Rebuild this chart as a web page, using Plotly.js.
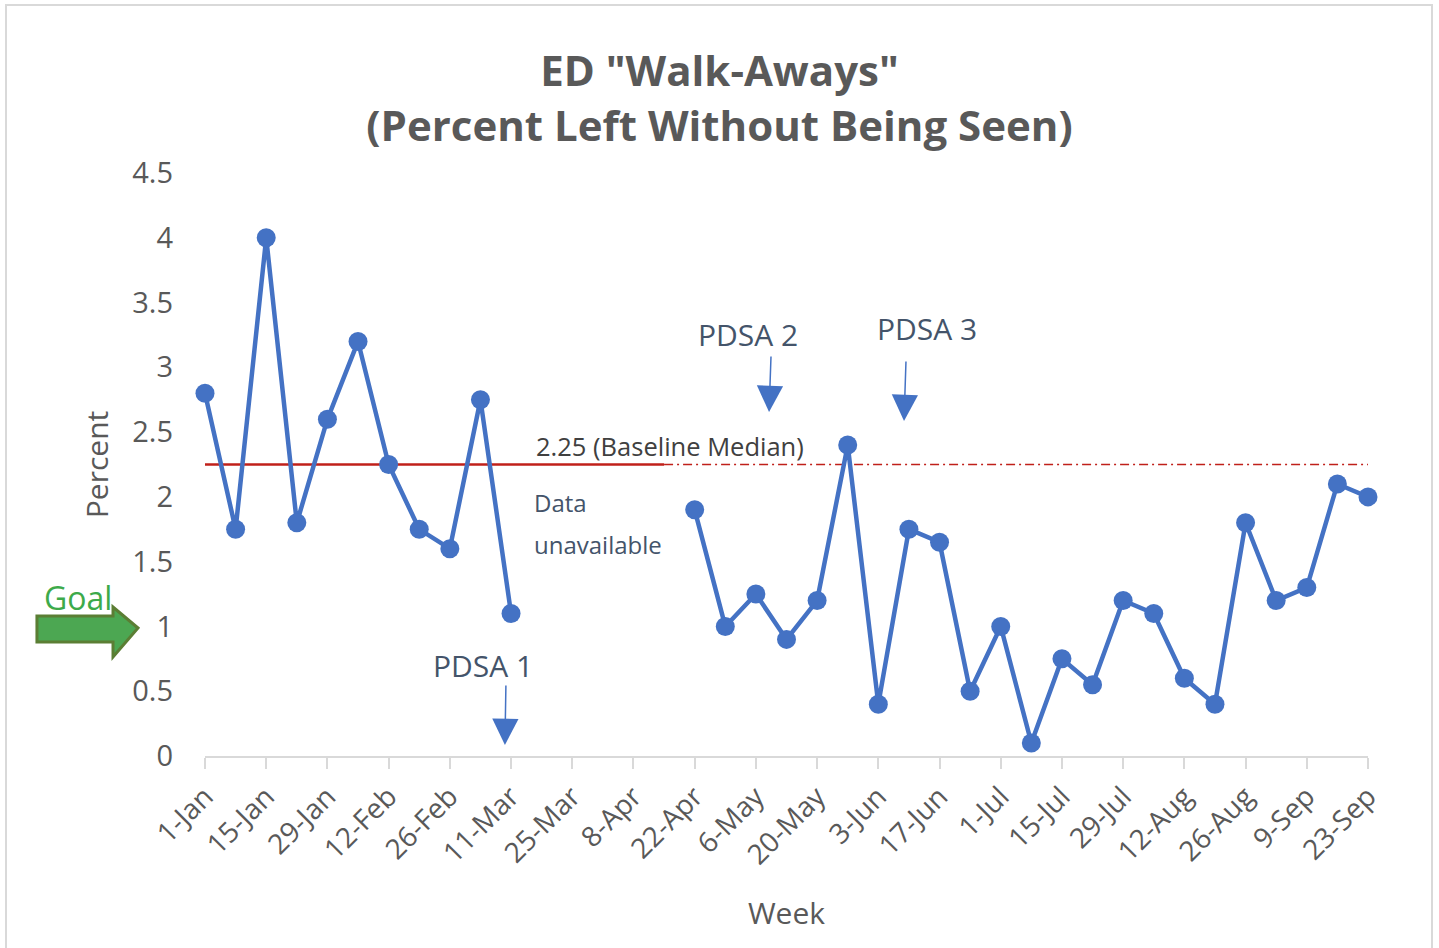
<!DOCTYPE html>
<html>
<head>
<meta charset="utf-8">
<script src="https://cdn.plot.ly/plotly-3.0.1.min.js"></script>
<style>
  html, body { margin: 0; padding: 0; background: #fff; }
  #wrap { position: relative; width: 1439px; height: 948px; }
  #chart { width: 1439px; height: 948px; }
  #frame { position: absolute; left: 5px; top: 4px; width: 1424px; height: 950px;
           border: 2px solid #d9d9d9; pointer-events: none; }
</style>
</head>
<body>
<div id="wrap"><div id="chart"></div><div id="frame"></div></div>
<script>
// Weekly categories
const weeks = ['1-Jan','8-Jan','15-Jan','22-Jan','29-Jan','5-Feb','12-Feb','19-Feb','26-Feb','4-Mar',
  '11-Mar','18-Mar','25-Mar','1-Apr','8-Apr','15-Apr','22-Apr','29-Apr','6-May','13-May',
  '20-May','27-May','3-Jun','10-Jun','17-Jun','24-Jun','1-Jul','8-Jul','15-Jul','22-Jul',
  '29-Jul','5-Aug','12-Aug','19-Aug','26-Aug','2-Sep','9-Sep','16-Sep','23-Sep'];
// Percent left without being seen (null = data unavailable)
const percent = [2.8,1.75,4.0,1.8,2.6,3.2,2.25,1.75,1.6,2.75,
  1.1,null,null,null,null,null,1.9,1.0,1.25,0.9,
  1.2,2.4,0.4,1.75,1.65,0.5,1.0,0.1,0.75,0.55,
  1.2,1.1,0.6,0.4,1.8,1.2,1.3,2.1,2.0];
// Tick labels shown on the x axis
const tickWeeks = ['1-Jan','15-Jan','29-Jan','12-Feb','26-Feb','11-Mar','25-Mar','8-Apr','22-Apr','6-May',
  '20-May','3-Jun','17-Jun','1-Jul','15-Jul','29-Jul','12-Aug','26-Aug','9-Sep','23-Sep'];
const yTicks = [0,0.5,1,1.5,2,2.5,3,3.5,4,4.5];
const baselineMedian = 2.25;
const baselineEndWeek = '15-Apr';
const goal = 1;
const pdsaLabels = ['PDSA 1','PDSA 2','PDSA 3'];

const FONT = 'Open Sans';
const GREY = '#595959';
const SLATE = '#44546A';
const BLUE = '#4472C4';

const baseEnd = weeks.indexOf(baselineEndWeek);
const lastIdx = weeks.length - 1;

const trace = {
  type: 'scatter', mode: 'lines+markers',
  x: weeks, y: percent,
  line: {color: BLUE, width: 4.5},
  marker: {color: BLUE, size: 19},
  connectgaps: false, cliponaxis: false,
  hoverinfo: 'x+y', showlegend: false
};

const layout = {
  width: 1439, height: 948,
  paper_bgcolor: '#fff', plot_bgcolor: '#fff',
  margin: {l: 205, r: 71, t: 173, b: 192},
  showlegend: false,
  font: {family: FONT, color: GREY},
  title: {
    text: 'ED "Walk-Aways"<br>(Percent Left Without Being Seen)',
    font: {family: FONT, size: 42, color: GREY, weight: 'bold'},
    x: 0.5, xref: 'container', xanchor: 'center',
    y: 1 - 86/948, yref: 'container', yanchor: 'middle'
  },
  xaxis: {
    type: 'category', categoryorder: 'array', categoryarray: weeks,
    range: [0, lastIdx],
    tickmode: 'array', tickvals: tickWeeks, ticktext: tickWeeks,
    tickangle: -45, tickfont: {family: FONT, size: 28, color: GREY},
    ticks: 'outside', ticklen: 11, tickwidth: 2, tickcolor: '#d9d9d9',
    showline: true, linecolor: '#d9d9d9', linewidth: 2,
    showgrid: false, zeroline: false, fixedrange: true,
    title: {text: 'Week', font: {family: FONT, size: 30, color: GREY}, standoff: 32}
  },
  yaxis: {
    range: [0, 4.5], tickmode: 'array', tickvals: yTicks,
    ticktext: yTicks.map(String),
    tickfont: {family: FONT, size: 29, color: GREY},
    ticks: '', ticklabelstandoff: 31,
    showline: false, showgrid: false, zeroline: false, fixedrange: true,
    title: {text: 'Percent', font: {family: FONT, size: 30, color: GREY}, standoff: 14}
  },
  shapes: [
    {type: 'line', xref: 'x', yref: 'y', x0: 0, x1: baseEnd, y0: baselineMedian, y1: baselineMedian,
     line: {color: '#C0201A', width: 2.5}, layer: 'below'},
    {type: 'line', xref: 'x', yref: 'y', x0: baseEnd, x1: lastIdx, y0: baselineMedian, y1: baselineMedian,
     line: {color: '#C0201A', width: 1.3, dash: '9px,4px,2px,4px'}, layer: 'below'},
    // Goal block arrow
    {type: 'path', xref: 'paper', yref: 'y',
     path: 'M -0.1445 1.081 L -0.0791 1.081 L -0.0791 1.150 L -0.0576 0.988 L -0.0791 0.764 L -0.0791 0.880 L -0.1445 0.880 Z',
     fillcolor: '#4CA752', line: {color: '#5B7E34', width: 3}}
  ],
  annotations: [
    {text: baselineMedian + ' (Baseline Median)', x: 10.75, y: 2.393, xref: 'x', yref: 'y',
     xanchor: 'left', yanchor: 'middle', showarrow: false,
     font: {family: FONT, size: 25.5, color: '#404040'}},
    {text: 'Data', x: 10.7, y: 1.953, xref: 'x', yref: 'y', xanchor: 'left', yanchor: 'middle',
     showarrow: false, font: {family: FONT, size: 24, color: SLATE}},
    {text: 'unavailable', x: 10.7, y: 1.63, xref: 'x', yref: 'y', xanchor: 'left', yanchor: 'middle',
     showarrow: false, font: {family: FONT, size: 24, color: SLATE}},
    {text: pdsaLabels[0], x: 9.08, y: 0.695, xref: 'x', yref: 'y', showarrow: false,
     font: {family: FONT, size: 30, color: SLATE}},
    {text: pdsaLabels[1], x: 17.75, y: 3.257, xref: 'x', yref: 'y', showarrow: false,
     font: {family: FONT, size: 30, color: SLATE}},
    {text: pdsaLabels[2], x: 23.6, y: 3.296, xref: 'x', yref: 'y', showarrow: false,
     font: {family: FONT, size: 30, color: SLATE}},
    {text: '', x: 9.8, y: 0.085, xref: 'x', yref: 'y', showarrow: true, ax: 1, ay: -61,
     arrowhead: 2, arrowsize: 3.5, arrowwidth: 1.5, arrowcolor: BLUE},
    {text: '', x: 18.43, y: 2.655, xref: 'x', yref: 'y', showarrow: true, ax: 2, ay: -57,
     arrowhead: 2, arrowsize: 3.5, arrowwidth: 1.5, arrowcolor: BLUE},
    {text: '', x: 22.84, y: 2.586, xref: 'x', yref: 'y', showarrow: true, ax: 2, ay: -61,
     arrowhead: 2, arrowsize: 3.5, arrowwidth: 1.5, arrowcolor: BLUE},
    {text: 'Goal', x: -0.1402, y: goal + 0.227, xref: 'paper', yref: 'y',
     xanchor: 'left', yanchor: 'middle', showarrow: false,
     font: {family: FONT, size: 32, color: '#3DAA4A'}}
  ]
};

Plotly.newPlot('chart', [trace], layout, {displayModeBar: false});
</script>
</body>
</html>
